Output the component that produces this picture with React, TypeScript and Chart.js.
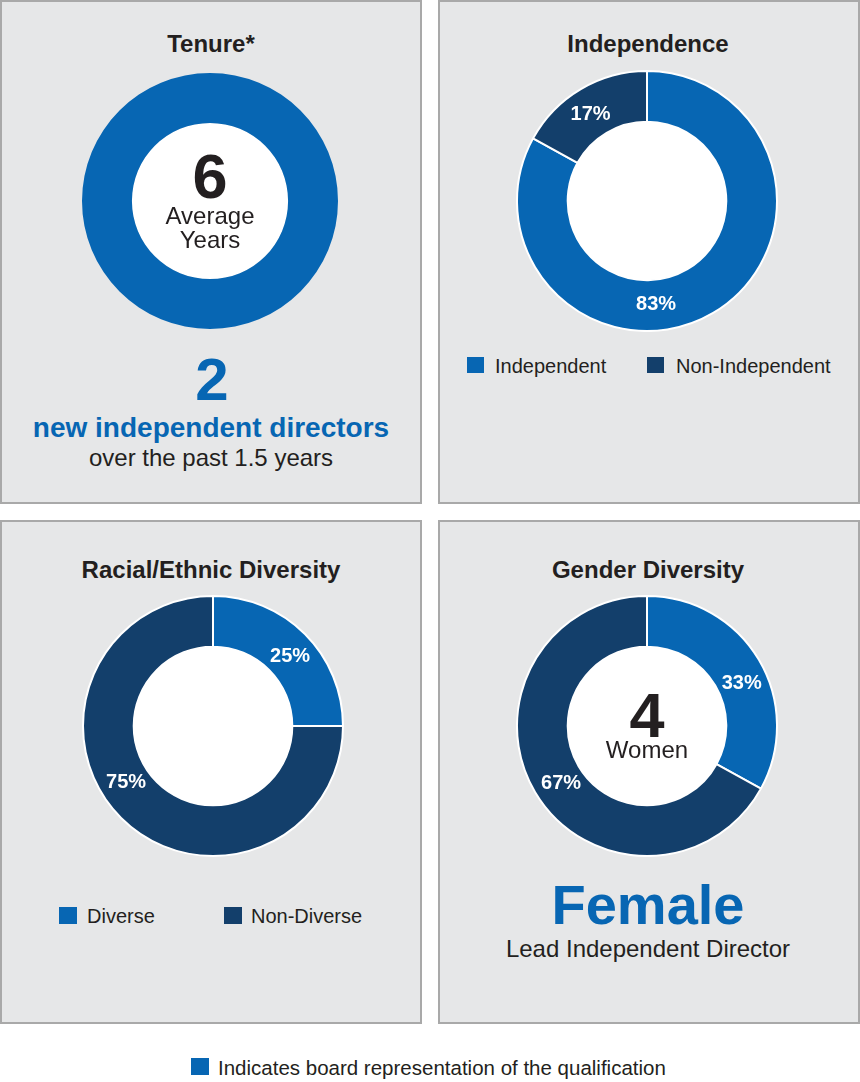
import React, { useEffect, useRef } from 'react';
import { Chart, registerables } from 'chart.js';

Chart.register(...registerables);

const BLUE = '#0766b3';
const NAVY = '#133f6b';
const PANEL_BG = '#e6e7e8';
const PANEL_BORDER = '#a9a9a9';
const TEXT = '#231f20';
const FONT = "'Liberation Sans', Arial, Helvetica, sans-serif";

// ---- data ----
const tenureCategories = ['Average Years'];
const tenureValues = [6];

const independenceCategories = ['Independent', 'Non-Independent'];
const independenceValues = [83, 17];
const independenceLabelAngles = [175, 327];

const racialCategories = ['Diverse', 'Non-Diverse'];
const racialValues = [25, 75];
const racialLabelAngles = [48, 237];

const genderCategories = ['Women', 'Men'];
const genderValues = [33, 67];
const genderLabelAngles = [66, 236];

const footerNote = 'Indicates board representation of the qualification';

const extrasPlugin = {
  id: 'donutExtras',
  beforeDatasetsDraw(chart: any) {
    const arc = chart.getDatasetMeta(0).data[0];
    if (!arc) return;
    const { x, y, innerRadius } = arc.getProps(['x', 'y', 'innerRadius'], true);
    const ctx = chart.ctx;
    ctx.save();
    ctx.beginPath();
    ctx.arc(x, y, innerRadius, 0, Math.PI * 2);
    ctx.fillStyle = '#ffffff';
    ctx.fill();
    ctx.restore();
  },
  afterDatasetsDraw(chart: any, _args: any, opts: any) {
    if (!opts || !opts.showPct) return;
    const meta = chart.getDatasetMeta(0);
    const values: number[] = chart.data.datasets[0].data;
    const total = values.reduce((a, b) => a + b, 0);
    const ctx = chart.ctx;
    ctx.save();
    ctx.fillStyle = '#ffffff';
    ctx.font = `bold 20px ${FONT}`;
    ctx.textAlign = 'center';
    ctx.textBaseline = 'middle';
    meta.data.forEach((arc: any, i: number) => {
      const { x, y, startAngle, endAngle, innerRadius, outerRadius } = arc.getProps(
        ['x', 'y', 'startAngle', 'endAngle', 'innerRadius', 'outerRadius'],
        true
      );
      const deg = opts.labelAngles ? opts.labelAngles[i] : undefined;
      const a = deg != null ? ((deg - 90) * Math.PI) / 180 : (startAngle + endAngle) / 2;
      const rr = (innerRadius + outerRadius) / 2 - 1;
      const pct = Math.round((values[i] / total) * 100);
      ctx.fillText(`${pct}%`, x + rr * Math.cos(a), y + rr * Math.sin(a));
    });
    ctx.restore();
  },
};

function Donut(props: {
  cx: number;
  cy: number;
  r: number;
  values: number[];
  labels: string[];
  colors: string[];
  border: boolean;
  showPct: boolean;
  labelAngles?: number[];
}) {
  const ref = useRef<HTMLCanvasElement>(null);
  const bw = props.border ? 2 : 0;
  const size = 2 * props.r + bw;
  useEffect(() => {
    const chart = new Chart(ref.current as HTMLCanvasElement, {
      type: 'doughnut',
      data: {
        labels: props.labels,
        datasets: [
          {
            data: props.values,
            backgroundColor: props.colors,
            borderColor: '#ffffff',
            borderWidth: bw,
            hoverOffset: 0,
          },
        ],
      },
      options: {
        responsive: false,
        animation: false,
        cutout: '61%',
        events: [],
        layout: { padding: 0 },
        plugins: {
          legend: { display: false },
          tooltip: { enabled: false },
          donutExtras: { showPct: props.showPct, labelAngles: props.labelAngles },
        } as any,
      },
      plugins: [extrasPlugin],
    });
    return () => chart.destroy();
  }, []);
  return (
    <canvas
      ref={ref}
      width={size}
      height={size}
      style={{
        position: 'absolute',
        left: props.cx - size / 2,
        top: props.cy - size / 2,
        width: size,
        height: size,
      }}
    />
  );
}

function T(props: {
  x: number;
  base: number;
  size: number;
  bold?: boolean;
  color?: string;
  align?: 'center' | 'left';
  children: React.ReactNode;
}) {
  const top = props.base - 0.8465 * props.size;
  const center = props.align !== 'left';
  return (
    <div
      style={{
        position: 'absolute',
        left: props.x,
        top,
        transform: center ? 'translateX(-50%)' : undefined,
        fontFamily: FONT,
        fontSize: props.size,
        lineHeight: `${props.size}px`,
        fontWeight: props.bold ? 700 : 400,
        color: props.color || TEXT,
        whiteSpace: 'nowrap',
      }}
    >
      {props.children}
    </div>
  );
}

function Panel(props: { left: number; top: number }) {
  return (
    <div
      style={{
        position: 'absolute',
        left: props.left,
        top: props.top,
        width: 422,
        height: 504,
        boxSizing: 'border-box',
        background: PANEL_BG,
        border: `2px solid ${PANEL_BORDER}`,
      }}
    />
  );
}

function Square(props: { x: number; y: number; size: number; color: string }) {
  return (
    <div
      style={{
        position: 'absolute',
        left: props.x,
        top: props.y,
        width: props.size,
        height: props.size - 1,
        background: props.color,
      }}
    />
  );
}

export default function App() {
  return (
    <div
      style={{
        position: 'absolute',
        left: 0,
        top: 0,
        width: 860,
        height: 1082,
        background: '#ffffff',
        overflow: 'hidden',
      }}
    >
      <Panel left={0} top={0} />
      <Panel left={438} top={0} />
      <Panel left={0} top={520} />
      <Panel left={438} top={520} />

      {/* Tenure */}
      <T x={211} base={52} size={24} bold>Tenure*</T>
      <Donut cx={210} cy={201} r={128} values={tenureValues} labels={tenureCategories} colors={[BLUE]} border={false} showPct={false} />
      <T x={210} base={198} size={63} bold>{String(tenureValues[0])}</T>
      <T x={210} base={224} size={24}>Average</T>
      <T x={210} base={248} size={24}>Years</T>
      <T x={212} base={401} size={60} bold color={BLUE}>2</T>
      <T x={211} base={438} size={28} bold color={BLUE}>new independent directors</T>
      <T x={211} base={466} size={24}>over the past 1.5 years</T>

      {/* Independence */}
      <T x={648} base={52} size={24} bold>Independence</T>
      <Donut cx={647} cy={201} r={130} values={independenceValues} labels={independenceCategories} colors={[BLUE, NAVY]} border showPct labelAngles={independenceLabelAngles} />
      <Square x={467} y={357} size={17} color={BLUE} />
      <T x={495} base={373} size={20} align="left">{independenceCategories[0]}</T>
      <Square x={647} y={357} size={17} color={NAVY} />
      <T x={676} base={373} size={20} align="left">{independenceCategories[1]}</T>

      {/* Racial / Ethnic */}
      <T x={211} base={578} size={24} bold>Racial/Ethnic Diversity</T>
      <Donut cx={213} cy={726} r={130} values={racialValues} labels={racialCategories} colors={[BLUE, NAVY]} border showPct labelAngles={racialLabelAngles} />
      <Square x={59} y={907} size={18} color={BLUE} />
      <T x={87} base={923} size={20} align="left">{racialCategories[0]}</T>
      <Square x={224} y={907} size={18} color={NAVY} />
      <T x={251} base={923} size={20} align="left">{racialCategories[1]}</T>

      {/* Gender */}
      <T x={648} base={578} size={24} bold>Gender Diversity</T>
      <Donut cx={647} cy={726} r={130} values={genderValues} labels={genderCategories} colors={[BLUE, NAVY]} border showPct labelAngles={genderLabelAngles} />
      <T x={647} base={737} size={63} bold>4</T>
      <T x={647} base={758} size={24}>Women</T>
      <T x={648} base={924} size={56} bold color={BLUE}>Female</T>
      <T x={648} base={957} size={24}>Lead Independent Director</T>

      {/* Footer */}
      <Square x={191} y={1058} size={18} color={BLUE} />
      <T x={218} base={1075} size={20.5} align="left">{footerNote}</T>
    </div>
  );
}
